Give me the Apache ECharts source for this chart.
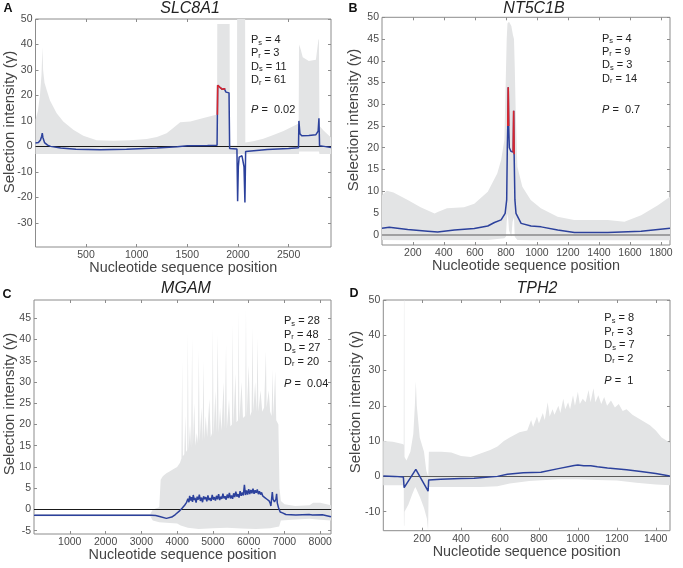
<!DOCTYPE html>
<html><head><meta charset="utf-8">
<script src="https://cdn.jsdelivr.net/npm/echarts@6/dist/echarts.min.js"></script>
<style>html,body{margin:0;padding:0;background:#fff}#c{width:683px;height:568px}</style>
</head><body><div id="c"></div>
<script>
// ---------- text ----------
const GENES = ['SLC8A1', 'NT5C1B', 'MGAM', 'TPH2'];
const LETTERS = ['A', 'B', 'C', 'D'];
const statPs = [4, 4, 28, 8];
const statPr = [3, 9, 48, 3];
const statDs = [11, 3, 27, 7];
const statDr = [61, 14, 20, 2];
const statP = ['0.02', '0.7', '0.04', '1'];

// ---------- axes ----------
const xMin = [1, 1, 0, 1];
const xMax = [2919, 1858, 8300, 1473];
const yMin = [-39.5, -2.37, -5.78, -15.4];
const yMax = [50, 50, 49.3, 50];
const xTicksA = [500, 1000, 1500, 2000, 2500];
const xTicksB = [200, 400, 600, 800, 1000, 1200, 1400, 1600, 1800];
const xTicksC = [1000, 2000, 3000, 4000, 5000, 6000, 7000, 8000];
const xTicksD = [200, 400, 600, 800, 1000, 1200, 1400];
const yTicksA = [-30, -20, -10, 0, 10, 20, 30, 40, 50];
const yTicksB = [0, 5, 10, 15, 20, 25, 30, 35, 40, 45, 50];
const yTicksC = [-5, 0, 5, 10, 15, 20, 25, 30, 35, 40, 45];
const yTicksD = [-10, 0, 10, 20, 30, 40, 50];

// ---------- panel A: SLC8A1 ----------
const meanA = [[1,1.3],[30,1.5],[50,2.5],[62,4],[68,5.2],[74,3.5],[90,1.5],[120,0.5],[150,0],[250,-0.6],[400,-1.1],[640,-1.3],[900,-1.1],[1200,-0.6],[1400,-0.1],[1500,0.2],[1700,0.3],[1794,0.4],[1797,12.4],[1800,24],[1812,23.8],[1822,23.2],[1830,22.6],[1838,23],[1846,22.4],[1855,22.8],[1866,22.6],[1875,22.4],[1882,21.3],[1895,21.3],[1912,21],[1918,-0.8],[1930,-1],[1990,-1],[1997,-21.5],[2004,-8],[2012,-4.2],[2025,-3.7],[2040,-3.7],[2052,-4.2],[2060,-8],[2069,-22],[2076,-2],[2090,-1.5],[2290,-1.2],[2500,-0.8],[2598,-0.5],[2602,10],[2612,5],[2630,4.2],[2700,4.3],[2770,4.6],[2792,6],[2800,11],[2806,0.2],[2850,0],[2919,-0.4]];
const redA = [[[1797,12.4],[1800,24],[1812,23.8],[1822,23.2],[1830,22.6],[1838,23],[1846,22.4],[1855,22.8],[1866,22.6],[1875,22.4]]];
const hiA = [[1,10.5],[25,14],[45,20],[60,28],[70,39],[76,30],[90,25],[112,22],[144,18],[210,13],[275,9.8],[374,6.5],[473,4.2],[605,2.4],[770,2.2],[934,2.4],[1100,2.9],[1200,3.7],[1296,5.2],[1361,7.2],[1400,8.5],[1430,9.5],[1530,9.8],[1660,11.1],[1794,12.5],[1796,48],[1918,48],[1920,0.3],[1990,0.3],[1992,50],[2071,50],[2073,1.5],[2150,2],[2250,3],[2350,4.5],[2450,6],[2550,8],[2600,9],[2603,40],[2620,38],[2640,35],[2700,33.5],[2770,34],[2795,42],[2800,42],[2805,8],[2850,6],[2919,3.5]];
const loA = [[1,-3],[1990,-3],[2071,-3],[2603,-3],[2605,-2],[2800,-2],[2805,-3],[2919,-3]];

// ---------- panel B: NT5C1B ----------
const meanB = [[1,1.5],[48,1.7],[100,1.5],[167,1.2],[296,0.8],[360,0.6],[468,1.1],[596,1.4],[683,2.0],[726,2.8],[769,3.4],[795,4.9],[805,8],[809,20],[812,25],[815,33.9],[818,25],[822,20],[832,19.2],[842,18.8],[847,19],[850,28.5],[853,18.5],[858,8],[865,4.9],[898,2.6],[962,2.0],[1027,1.8],[1134,1.1],[1242,0.5],[1457,0.5],[1672,0.8],[1858,1.5]];
const redB = [[[812,25],[815,33.9],[818,25]], [[847,19],[850,28.5],[853,18.5]]];
const hiB = [[1,9.1],[32,10.1],[75,9.7],[167,8],[250,6.3],[340,4.9],[360,5.2],[420,6.1],[530,6.3],[596,7.1],[683,9.9],[744,14.1],[769,17.2],[790,21.8],[805,45],[810,48.6],[820,49],[835,48],[845,46],[852,45],[857,38.6],[863,28.7],[874,15.6],[906,11],[960,8],[1025,6.1],[1133,4.1],[1240,3.4],[1456,3.4],[1564,3],[1672,4.5],[1780,6.8],[1858,8.7]];
const loB = [[1,-1.2],[167,-1.3],[683,-1.2],[790,-0.8],[800,-0.5],[805,3],[812,5],[820,1],[835,-0.5],[843,3],[852,4],[857,-0.5],[874,-1.2],[960,-1.3],[1858,-1.3]];

// ---------- panel C: MGAM ----------
const meanC = [[0,-1.35],[1000,-1.35],[2000,-1.35],[3000,-1.35],[3280,-1.35],[3400,-1.45],[3510,-1.65],[3700,-2.1],[3850,-1.8],[3950,-1.2],[4060,-0.4],[4150,0.4],[4210,1.0],[4260,1.6],[4300,2.5],[4330,1.7],[4350,3.2],[4380,2.1],[4400,2.9],[4430,1.8],[4450,3.4],[4480,2.2],[4500,2.7],[4530,1.6],[4560,3.0],[4590,2.3],[4620,3.5],[4650,2.0],[4680,2.8],[4710,1.7],[4740,3.1],[4770,2.4],[4800,2.9],[4830,1.9],[4860,3.3],[4890,2.2],[4920,2.7],[4950,2.0],[4980,3.4],[5010,2.3],[5040,2.9],[5070,2.1],[5100,3.2],[5130,2.4],[5160,3.6],[5190,2.2],[5220,3.0],[5250,2.5],[5280,3.7],[5310,2.6],[5340,3.1],[5370,2.3],[5400,3.5],[5430,2.7],[5460,3.9],[5490,2.6],[5520,3.3],[5550,2.5],[5580,3.8],[5610,2.9],[5640,4.2],[5670,3.0],[5700,3.6],[5730,2.8],[5760,4.3],[5790,3.2],[5820,4.0],[5850,3.3],[5880,5.8],[5910,3.4],[5940,4.5],[5970,3.5],[6000,4.8],[6030,3.6],[6060,4.6],[6090,3.8],[6120,4.9],[6150,3.7],[6180,4.5],[6210,3.9],[6240,4.7],[6270,3.6],[6300,4.3],[6330,3.5],[6360,4.0],[6390,3.2],[6420,3.5],[6450,2.8],[6480,3.0],[6510,2.4],[6540,2.5],[6570,2.0],[6600,1.5],[6620,0.8],[6660,4.1],[6680,2.4],[6720,1.8],[6760,2.4],[6780,3.7],[6800,1.5],[6834,0.4],[6880,-0.6],[6945,-0.8],[7038,-1.2],[7317,-1.3],[7688,-1.2],[7735,-0.9],[7781,-1.3],[8060,-1.25],[8300,-1.7]];
const hiC = [[0,-1.1],[3250,-1.1],[3320,0],[3500,0.5],[3540,7],[3600,7.8],[3700,8.5],[3800,9],[3900,9.5],[4000,10],[4080,11],[4120,12],[4141,35],[4160,12.5],[4200,13],[4230,22],[4250,13.5],[4280,14],[4299,41.7],[4320,14],[4360,20],[4390,14.5],[4420,40.5],[4440,15],[4480,25],[4510,15],[4550,18],[4580,15.5],[4606,37.7],[4630,16],[4680,24],[4710,16],[4736,35],[4760,16.5],[4800,22],[4840,17],[4900,26],[4940,17],[4975,18],[4996,42.9],[5020,17.5],[5070,28],[5100,18],[5135,41.3],[5160,18],[5200,24],[5240,18.5],[5300,30],[5330,19],[5367,38.9],[5390,19],[5450,26],[5490,19.5],[5530,20],[5553,43.6],[5575,20],[5630,32],[5660,20.5],[5700,21],[5720,46.8],[5740,21],[5800,30],[5840,21.5],[5900,22],[5924,47.2],[5945,22],[6000,34],[6040,22],[6080,23],[6110,42.9],[6130,23],[6180,30],[6220,23],[6249,40.5],[6270,23],[6330,28],[6380,23],[6430,24],[6481,37.3],[6500,24],[6560,28],[6600,23],[6640,22],[6667,33],[6690,22],[6741,32.6],[6770,21],[6830,20],[6860,5],[6900,2],[7000,1.2],[7300,0.8],[7700,1],[7800,1.6],[8000,1.6],[8300,1]];
const loC = [[0,-1.6],[3250,-1.6],[3320,-2.6],[3500,-3],[4000,-3.3],[4100,-3.8],[4300,-4.3],[4600,-4.6],[5000,-4.4],[5400,-4.3],[5800,-4.5],[6200,-4.6],[6600,-4.4],[6850,-4],[6900,-2.6],[7200,-2.4],[7700,-2.2],[8000,-2.4],[8300,-2.6]];

// ---------- panel D: TPH2 ----------
const meanD = [[1,0.1],[60,0],[104,-0.2],[108,-3.2],[168,2],[231,-4.2],[234,-1],[296,-0.8],[400,-0.6],[467,-0.5],[587,0],[638,0.6],[720,1],[810,1.2],[900,2.2],[981,3.1],[1000,3.2],[1030,3.0],[1066,3.0],[1100,2.7],[1152,2.4],[1250,1.9],[1323,1.4],[1400,0.8],[1472,0.1]];
const hiD = [[1,10],[50,9.8],[100,9.2],[106,9],[107,50],[109,50],[110,5.5],[120,4.5],[140,7],[155,12],[163,20],[168,27],[173,20],[188,11],[210,7],[222,1.5],[232,0],[235,7],[300,7],[350,6.8],[400,5.8],[450,5.5],[500,6.5],[550,7.5],[587,8.5],[620,10],[650,11],[700,12.5],[740,13],[760,16],[770,14],[790,17],[800,15],[820,18],[830,16],[845,21],[855,17],[870,19],[880,17.5],[900,20],[910,18],[925,22],[935,19],[950,21],[960,19],[975,23],[985,20],[1000,24],[1010,20.5],[1025,22],[1040,21],[1055,24.5],[1065,21],[1080,25],[1090,21],[1105,23],[1120,20.5],[1135,22.5],[1150,20],[1170,21.5],[1190,19.5],[1210,20.5],[1230,18.5],[1250,19],[1280,17.5],[1310,16.5],[1340,15.5],[1370,14.5],[1400,13],[1430,11],[1473,9.5]];
const loD = [[1,-2.5],[106,-2.5],[107,-14],[109,-14],[110,-10],[130,-8],[150,-5],[165,-3],[170,-3.5],[190,-6],[210,-9],[225,-12],[231,-15.5],[234,-3],[300,-3],[400,-3],[500,-3],[587,-2.8],[650,-2],[750,-1.3],[900,-0.8],[1000,-0.8],[1100,-1],[1200,-1.2],[1300,-1.8],[1400,-2.3],[1473,-2.5]];

// ---------- assembly ----------
const MEAN = [meanA, meanB, meanC, meanD];
const RED = [redA, redB, [], []];
const HI = [hiA, hiB, hiC, hiD];
const LO = [loA, loB, loC, loD];
const XT = [xTicksA, xTicksB, xTicksC, xTicksD];
const YT = [yTicksA, yTicksB, yTicksC, yTicksD];

const FONT = 'Liberation Sans';
const GRAY = '#e3e4e5', BLUE = '#2c419c', REDC = '#d7262d', AX = '#8c8c8c', TXT = '#4a4a4a';
const ZERO = [{c:'#1a1a1a', w:1}, {c:'#8a8a8a', w:1.6}, {c:'#1a1a1a', w:1}, {c:'#5a5a5a', w:1.2}];

const GRIDS = [
  {left:35.5, top:19, width:295.5, height:228},
  {left:382, top:17.3, width:288, height:227.7},
  {left:34, top:300, width:297, height:234},
  {left:383.3, top:300, width:286.7, height:230.7}
];
const TITLEPOS = [[190, 8.5], [534, 8.5], [186, 289], [537, 289]];
const LETTERPOS = [[8, 9], [353, 9], [7, 295], [354, 294]];
const YNAMEPOS = [[9.5, 122], [353.5, 120], [9.5, 404], [356, 402]];
const ANNPOS = [[251, 40, 110], [602, 38.5, 110], [284, 321.3, 384], [604.3, 318.3, 381.3]];

const plain = v => String(v);
const grid = [], xAxis = [], yAxis = [], series = [], graphic = [];
const tick = {inside:true, length:3, lineStyle:{color:AX}};
const noLine = {show:false, onZero:false};
const labStyle = {formatter:plain, fontSize:10.5, color:TXT, fontFamily:FONT};
for (let i = 0; i < 4; i++) {
  grid.push(Object.assign({show:true, borderColor:AX, borderWidth:1, backgroundColor:'rgba(0,0,0,0)', containLabel:false, outerBoundsMode:'none'}, GRIDS[i]));
  xAxis.push({type:'value', gridIndex:i, min:xMin[i], max:xMax[i], position:'bottom',
    axisLine:noLine, splitLine:{show:false},
    axisTick:Object.assign({customValues:XT[i]}, tick),
    axisLabel:Object.assign({customValues:XT[i], margin:2.5}, labStyle),
    name:'Nucleotide sequence position', nameLocation:'middle', nameGap:12,
    nameTextStyle:{fontSize:14.4, color:'#444', fontFamily:FONT}});
  xAxis.push({type:'value', gridIndex:i, min:xMin[i], max:xMax[i], position:'top',
    axisLine:noLine, splitLine:{show:false},
    axisTick:Object.assign({customValues:XT[i]}, tick), axisLabel:{show:false}});
  yAxis.push({type:'value', gridIndex:i, min:yMin[i], max:yMax[i], position:'left',
    axisLine:noLine, splitLine:{show:false},
    axisTick:Object.assign({customValues:YT[i]}, tick),
    axisLabel:Object.assign({customValues:YT[i], margin:3, hideOverlap:false}, labStyle)});
  yAxis.push({type:'value', gridIndex:i, min:yMin[i], max:yMax[i], position:'right',
    axisLine:noLine, splitLine:{show:false},
    axisTick:Object.assign({customValues:YT[i]}, tick), axisLabel:{show:false}});

  const hi = HI[i], lo = LO[i];
  series.push({type:'custom', xAxisIndex:2*i, yAxisIndex:2*i, clip:true, silent:true, z:1, animation:false,
    data:[hi[0]],
    renderItem: function (params, api) {
      const pts = hi.map(p => api.coord(p)).concat(lo.slice().reverse().map(p => api.coord(p)));
      return {type:'polygon', shape:{points:pts}, style:{fill:GRAY}};
    }});
  series.push({type:'line', xAxisIndex:2*i, yAxisIndex:2*i, data:MEAN[i], symbol:'none', silent:true,
    animation:false, z:4, lineStyle:{color:BLUE, width:1.5}, clip:true,
    markLine:{silent:true, z:3, symbol:['none','none'], label:{show:false}, animation:false,
      lineStyle:{color:ZERO[i].c, width:ZERO[i].w, type:'solid'}, emphasis:{disabled:true},
      data:[{yAxis:0}]}});
  RED[i].forEach(seg => series.push({type:'line', xAxisIndex:2*i, yAxisIndex:2*i, data:seg, symbol:'none',
    silent:true, animation:false, z:5, lineStyle:{color:REDC, width:1.6}}));

  // texts
  graphic.push({type:'text', x:TITLEPOS[i][0], y:TITLEPOS[i][1], style:{text:GENES[i], fontSize:16,
    fontStyle:'italic', fontFamily:FONT, fill:'#222', align:'center', verticalAlign:'middle'}});
  graphic.push({type:'text', x:LETTERPOS[i][0], y:LETTERPOS[i][1], style:{text:LETTERS[i], fontSize:12.5,
    fontWeight:'bold', fontFamily:FONT, fill:'#111', align:'center', verticalAlign:'middle'}});
  graphic.push({type:'text', x:YNAMEPOS[i][0], y:YNAMEPOS[i][1], rotation:Math.PI/2,
    style:{text:'Selection intensity (γ)', fontSize:15, fontFamily:FONT, fill:'#444', align:'center', verticalAlign:'middle'}});
  const rich = {a:{fontSize:11, fontFamily:FONT, fill:'#222', lineHeight:13},
                s:{fontSize:7.5, fontFamily:FONT, fill:'#222', lineHeight:7, padding:[9,0,0,0], verticalAlign:'bottom'},
                i:{fontSize:11, fontFamily:FONT, fontStyle:'italic', fill:'#222', lineHeight:13}};
  const lines = [['s', statPs[i]], ['r', statPr[i]], ['s', statDs[i]], ['r', statDr[i]]];
  const letters = ['P', 'P', 'D', 'D'];
  lines.forEach((ln, k) => {
    graphic.push({type:'text', x:ANNPOS[i][0], y:ANNPOS[i][1] + k * 13.4,
      style:{text:'{a|' + letters[k] + '}{s|' + ln[0] + '}{a| = ' + ln[1] + '}', rich:rich,
        align:'left', verticalAlign:'middle'}});
  });
  graphic.push({type:'text', x:ANNPOS[i][0], y:ANNPOS[i][2],
    style:{text:'{i|P}{a| =  ' + statP[i] + '}', rich:rich, align:'left', verticalAlign:'middle'}});
}

const chart = echarts.init(document.getElementById('c'), null, {renderer:'canvas'});
chart.setOption({animation:false, backgroundColor:'#fff', grid, xAxis, yAxis, series, graphic});
</script></body></html>
